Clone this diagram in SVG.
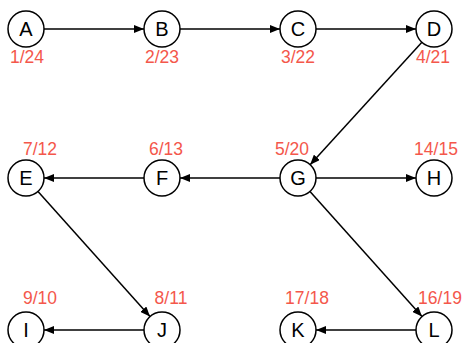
<svg xmlns="http://www.w3.org/2000/svg" width="464" height="343" viewBox="0 0 464 343">
  <style>
    .node circle { fill: #ffffff; stroke: #000000; stroke-width: 1.5; }
    .node .name { font-family: "Liberation Sans", Arial, sans-serif; font-size: 20px; fill: #000000; text-anchor: middle; }
    .node .time { font-family: "Liberation Sans", Arial, sans-serif; font-size: 17.5px; fill: #f4574b; text-anchor: middle; }
    #edges line { stroke: #000000; stroke-width: 1.5; marker-end: url(#arrow); }
  </style>
  <defs>
    <marker id="arrow" markerUnits="userSpaceOnUse" markerWidth="10" markerHeight="8" refX="10" refY="4" orient="auto">
      <path d="M0,0 L10,4 L0,8 Z" fill="#000000"/>
    </marker>
  </defs>

  <rect width="464" height="343" fill="#ffffff"/>

  <g id="edges">
    <line x1="44" y1="29" x2="144" y2="29"/>
    <line x1="180" y1="29" x2="280" y2="29"/>
    <line x1="316" y1="29" x2="416" y2="29"/>
    <line x1="421.9" y1="42.3" x2="310.1" y2="164.7"/>
    <line x1="280" y1="178" x2="180" y2="178"/>
    <line x1="144" y1="178" x2="44" y2="178"/>
    <line x1="316" y1="178" x2="416" y2="178"/>
    <line x1="38" y1="191.4" x2="150" y2="316.6"/>
    <line x1="310" y1="191.4" x2="422" y2="316.6"/>
    <line x1="144" y1="330" x2="44" y2="330"/>
    <line x1="416" y1="330" x2="316" y2="330"/>
  </g>

  <g id="A" class="node"><circle cx="26" cy="29" r="18"/><text class="name" x="26" y="36">A</text><text class="time" x="27" y="63">1/24</text></g>
  <g id="B" class="node"><circle cx="162" cy="29" r="18"/><text class="name" x="162" y="36">B</text><text class="time" x="162" y="63">2/23</text></g>
  <g id="C" class="node"><circle cx="298" cy="29" r="18"/><text class="name" x="298" y="36">C</text><text class="time" x="298" y="63">3/22</text></g>
  <g id="D" class="node"><circle cx="434" cy="29" r="18"/><text class="name" x="434" y="36">D</text><text class="time" x="433" y="63">4/21</text></g>

  <g id="E" class="node"><circle cx="26" cy="178" r="18"/><text class="name" x="26" y="185">E</text><text class="time" x="40" y="155">7/12</text></g>
  <g id="F" class="node"><circle cx="162" cy="178" r="18"/><text class="name" x="162" y="185">F</text><text class="time" x="166" y="155">6/13</text></g>
  <g id="G" class="node"><circle cx="298" cy="178" r="18"/><text class="name" x="298" y="185">G</text><text class="time" x="292" y="155">5/20</text></g>
  <g id="H" class="node"><circle cx="434" cy="178" r="18"/><text class="name" x="434" y="185">H</text><text class="time" x="436" y="155">14/15</text></g>

  <g id="I" class="node"><circle cx="26" cy="330" r="18"/><text class="name" x="26" y="337">I</text><text class="time" x="40" y="304">9/10</text></g>
  <g id="J" class="node"><circle cx="162" cy="330" r="18"/><text class="name" x="162" y="337">J</text><text class="time" x="171" y="304">8/11</text></g>
  <g id="K" class="node"><circle cx="298" cy="330" r="18"/><text class="name" x="298" y="337">K</text><text class="time" x="307" y="304">17/18</text></g>
  <g id="L" class="node"><circle cx="434" cy="330" r="18"/><text class="name" x="434" y="337">L</text><text class="time" x="440" y="304">16/19</text></g>
</svg>
